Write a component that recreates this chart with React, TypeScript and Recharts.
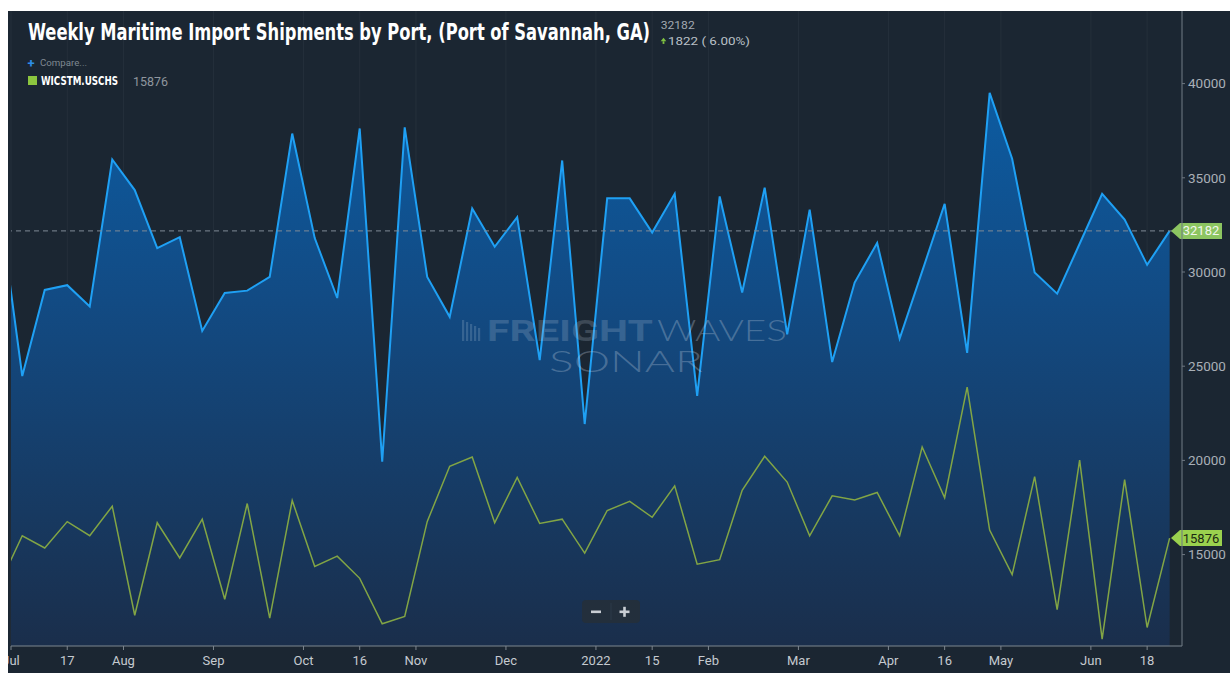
import React from 'react';
import { ComposedChart, Area, Line, XAxis, YAxis, CartesianGrid, ReferenceLine } from 'recharts';

// Week-ending dates (weekly observations)
const weeks = [
  '2021-06-26', '2021-07-03', '2021-07-10', '2021-07-17', '2021-07-24', '2021-07-31',
  '2021-08-07', '2021-08-14', '2021-08-21', '2021-08-28',
  '2021-09-04', '2021-09-11', '2021-09-18', '2021-09-25',
  '2021-10-02', '2021-10-09', '2021-10-16', '2021-10-23', '2021-10-30',
  '2021-11-06', '2021-11-13', '2021-11-20', '2021-11-27',
  '2021-12-04', '2021-12-11', '2021-12-18', '2021-12-25',
  '2022-01-01', '2022-01-08', '2022-01-15', '2022-01-22', '2022-01-29',
  '2022-02-05', '2022-02-12', '2022-02-19', '2022-02-26',
  '2022-03-05', '2022-03-12', '2022-03-19', '2022-03-26',
  '2022-04-02', '2022-04-09', '2022-04-16', '2022-04-23', '2022-04-30',
  '2022-05-07', '2022-05-14', '2022-05-21', '2022-05-28',
  '2022-06-04', '2022-06-11', '2022-06-18', '2022-06-25',
];

// Port of Savannah, GA weekly import shipments (blue area)
const savannahImports = [
  33400, 24480, 29050, 29300, 28170, 35970, 34350, 31270, 31850, 26870,
  28890, 29010, 29740, 37350, 31800, 28620, 37620, 19930, 37680, 29740,
  27620, 33370, 31340, 32910, 25320, 35920, 21930, 33910, 33910, 32090,
  34150, 23420, 34010, 28910, 34480, 26690, 33310, 25220, 29440, 31540,
  26460, 30030, 33620, 25710, 39510, 36010, 29970, 28850, 31500, 34150,
  32780, 30380, 32182,
];

// WICSTM.USCHS weekly import shipments (green line)
const charlestonImports = [
  13450, 16000, 15350, 16750, 16000, 17570, 11780, 16690, 14820, 16880,
  12630, 17710, 11630, 17870, 14370, 14920, 13740, 11330, 11720, 16750,
  19690, 20180, 16690, 19100, 16650, 16880, 15080, 17340, 17830, 16980,
  18650, 14490, 14730, 18410, 20220, 18850, 16000, 18120, 17900, 18300,
  16000, 20710, 18020, 23890, 16300, 13940, 19140, 12080, 20020, 10510,
  18980, 11130, 15876,
];

const xTickPositions = [0.5, 3, 5.5, 9.5, 13.5, 16, 18.5, 22.5, 26.5, 29, 31.5, 35.5, 39.5, 42, 44.5, 48.5, 51];
const xTickLabels = ['Jul', '17', 'Aug', 'Sep', 'Oct', '16', 'Nov', 'Dec', '2022', '15', 'Feb', 'Mar', 'Apr', '16', 'May', 'Jun', '18'];
const yTicks = [15000, 20000, 25000, 30000, 35000, 40000];

const titleText = 'Weekly Maritime Import Shipments by Port, (Port of Savannah, GA)';
const latestValue = '32182';
const changeText = '1822 ( 6.00%)';
const legendCode = 'WICSTM.USCHS';
const legendValue = '15876';

const data = weeks.map((w, i) => ({
  idx: i,
  week: w,
  savannah: savannahImports[i],
  charleston: charlestonImports[i],
}));

const lastSavannah = savannahImports[savannahImports.length - 1];
const lastCharleston = charlestonImports[charlestonImports.length - 1];

const W = 1222;
const H = 662;
const TITLE_SX = 0.88;

const Tag = (props: any) => {
  const { viewBox, text, fill, textFill } = props;
  if (!viewBox) return null;
  const xr = viewBox.x + viewBox.width;
  const y = viewBox.y;
  const tip = xr - 11;
  const bx = xr - 2;
  const bw = 42;
  const h = 16;
  const d = `M${tip},${y} L${bx},${y - h / 2} L${bx + bw},${y - h / 2} L${bx + bw},${y + h / 2} L${bx},${y + h / 2} Z`;
  return (
    <g>
      <path d={d} fill={fill} />
      <text x={bx + bw / 2} y={y + 4.6} textAnchor="middle" fontSize={13} fontFamily="Roboto, sans-serif" fill={textFill}>
        {text}
      </text>
    </g>
  );
};

const xFmt = (v: number) => {
  const k = xTickPositions.indexOf(v);
  return k >= 0 ? xTickLabels[k] : '';
};

export default function App() {
  return (
    <div style={{ position: 'fixed', left: 8, top: 11, width: W, height: H, background: '#1b2632', overflow: 'hidden' }}>
      <ComposedChart width={W} height={H} data={data} margin={{ top: 0, right: 0, bottom: 0, left: 3 }}>
        <defs>
          <linearGradient id="blueFill" gradientUnits="userSpaceOnUse" x1="0" y1="0" x2="0" y2="635">
            <stop offset="0%" stopColor="#0a62ad" />
            <stop offset="45%" stopColor="#124b84" />
            <stop offset="100%" stopColor="#1a2e4b" />
          </linearGradient>
        </defs>
        <CartesianGrid horizontal={false} vertical={true} stroke="#ffffff" strokeOpacity={0.045} />
        <XAxis
          dataKey="idx"
          type="number"
          domain={[0.5, 52.55]}
          allowDataOverflow
          ticks={xTickPositions}
          interval={0}
          tickFormatter={xFmt}
          height={27}
          axisLine={{ stroke: '#7d868f' }}
          tickLine={{ stroke: '#7d868f' }}
          tickSize={4}
          tickMargin={6}
          tick={{ fill: '#c5cad0', fontSize: 13, fontFamily: 'Roboto, sans-serif' }}
        />
        <YAxis
          orientation="right"
          type="number"
          domain={[10148, 43854]}
          allowDataOverflow
          ticks={yTicks}
          interval={0}
          width={48}
          axisLine={{ stroke: '#6f7882' }}
          tickLine={{ stroke: '#6f7882' }}
          tickSize={3}
          tickMargin={3}
          tick={{ fill: '#a9afb7', fontSize: 13.5, fontFamily: 'Roboto, sans-serif' }}
        />
        <Area
          type="linear"
          dataKey="savannah"
          stroke="#1fa0f4"
          strokeWidth={2}
          fill="url(#blueFill)"
          fillOpacity={1}
          dot={false}
          activeDot={false}
          isAnimationActive={false}
        />
        <Line
          type="linear"
          dataKey="charleston"
          stroke="#82a545"
          strokeWidth={1.5}
          dot={false}
          activeDot={false}
          isAnimationActive={false}
        />
        <ReferenceLine
          y={lastSavannah}
          stroke="#7f8a96"
          strokeDasharray="5 4"
          strokeWidth={1}
          label={<Tag text={String(lastSavannah)} fill="#8cc561" textFill="#f2f7ee" />}
        />
        <ReferenceLine
          y={lastCharleston}
          stroke="none"
          label={<Tag text={String(lastCharleston)} fill="#9ad14e" textFill="#1c2a12" />}
        />
      </ComposedChart>
      <svg width={W} height={H} style={{ position: 'absolute', left: 0, top: 0, pointerEvents: 'none' }}>
        {/* title block */}
        <g transform={`scale(${TITLE_SX},1)`}>
          <text x={20 / TITLE_SX} y={29} fontSize={23} fontWeight="bold" fontFamily="'Liberation Sans Narrow', 'DejaVu Sans Condensed', sans-serif" fill="#ffffff" textLength={622 / TITLE_SX} lengthAdjust="spacingAndGlyphs">
            {titleText}
          </text>
        </g>
        <text x={652.7} y={17.5} fontSize={10.5} fontFamily="Roboto, sans-serif" fill="#a2a9b1" textLength={34} lengthAdjust="spacingAndGlyphs">
          {latestValue}
        </text>
        <polygon points="655.5,26.8 658.3,30.3 652.7,30.3" fill="#7fc242" />
        <rect x={654.6} y={30.3} width={1.8} height={2.6} fill="#7fc242" />
        <text x={660} y={34} fontSize={10.5} fontFamily="Roboto, sans-serif" fill="#b9c0c7" textLength={82} lengthAdjust="spacingAndGlyphs">
          {changeText}
        </text>
        {/* compare + legend */}
        <text x={19.5} y={56.5} fontSize={13} fontWeight="bold" fontFamily="Roboto, sans-serif" fill="#2d8ee6">+</text>
        <text x={32} y={55} fontSize={9.5} fontFamily="Roboto, sans-serif" fill="#7f8891" textLength={47} lengthAdjust="spacingAndGlyphs">Compare...</text>
        <rect x={20} y={65} width={9} height={9} fill="#8cc63f" />
        <text x={33} y={74} fontSize={12} fontWeight="bold" fontFamily="'Liberation Sans Narrow', 'DejaVu Sans Condensed', sans-serif" fill="#ffffff" textLength={77} lengthAdjust="spacingAndGlyphs">
          {legendCode}
        </text>
        <text x={125} y={74.5} fontSize={13} fontFamily="Roboto, sans-serif" fill="#8f969e" textLength={35} lengthAdjust="spacingAndGlyphs">
          {legendValue}
        </text>
        {/* watermark */}
        <g fill="#b8c8da">
          <g fillOpacity={0.22}>
            <rect x={454} y={309} width={2.2} height={21} />
            <rect x={458} y={311} width={2.2} height={19} />
            <rect x={462} y={313} width={2.2} height={17} />
            <rect x={466} y={315} width={2.2} height={15} />
            <rect x={470} y={317} width={2.2} height={13} />
            <text x={479} y={330} fontSize={29} fontWeight="bold" fontFamily="Roboto, sans-serif" textLength={166} lengthAdjust="spacingAndGlyphs">FREIGHT</text>
          </g>
          <g fillOpacity={0.32}>
            <text x={649} y={330} fontSize={29} fontWeight={300} fontFamily="Lato, 'Open Sans', sans-serif" textLength={130} lengthAdjust="spacingAndGlyphs">WAVES</text>
            <text x={541} y={361} fontSize={29} fontWeight={300} fontFamily="Lato, 'Open Sans', sans-serif" textLength={154} lengthAdjust="spacingAndGlyphs">SONAR</text>
          </g>
        </g>
        {/* zoom control */}
        <rect x={574} y={589} width={58} height={23} rx={4} fill="#232f3c" />
        <line x1={603} y1={592} x2={603} y2={609} stroke="#2d3a48" strokeWidth={1} />
        <rect x={583} y={599.5} width={10} height={2.6} fill="#c9ced4" />
        <rect x={611.5} y={599.5} width={10} height={2.6} fill="#c9ced4" />
        <rect x={615.2} y={595.8} width={2.6} height={10} fill="#c9ced4" />
      </svg>
    </div>
  );
}
